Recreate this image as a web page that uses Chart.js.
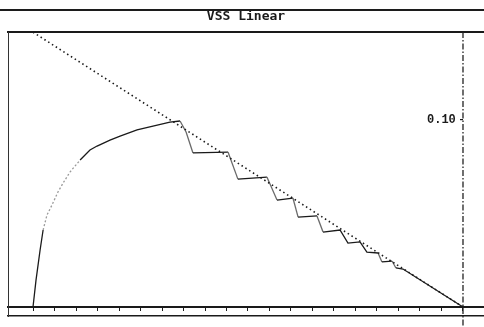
<!DOCTYPE html>
<html>
<head>
<meta charset="utf-8">
<script src="https://cdn.jsdelivr.net/npm/chart.js@4/dist/chart.umd.min.js"></script>
<style>
  html, body { margin: 0; padding: 0; background: #fff; }
  #wrap { position: relative; width: 484px; height: 327px; }
  #rule { position: absolute; left: 0; top: 9px; width: 484px; height: 2px; background: #1c1c1c; }
  canvas { position: absolute; left: 0; top: 0; }
</style>
</head>
<body>
<div id="wrap">
  <canvas id="c" width="484" height="327"></canvas>
  <div id="rule"></div>
</div>
<script>
// Reference line: linear decay from the starting level to zero
const refX = [0, 20];
const refY = [0.147, 0];

// Simulated response: rise, then stepwise tracking of the linear reference
const respX = [0, 0.14, 0.33, 0.47, 0.65, 0.88, 1.16, 1.40, 1.72, 2.19, 2.65, 2.98, 3.58, 4.05, 4.84, 5.58, 6.37, 6.84,
               7.12, 7.44, 9.07, 9.53, 10.88, 11.35, 12.09, 12.33, 13.21, 13.49, 14.28, 14.65, 15.21, 15.53, 16.05,
               16.23, 16.70, 16.88, 17.21, 20];
const respY = [0, 0.0144, 0.0305, 0.0412, 0.0492, 0.0545, 0.0615, 0.0663, 0.0722, 0.0786, 0.0840, 0.0861, 0.0893, 0.0914, 0.0947, 0.0968, 0.0989, 0.0995,
               0.0936, 0.0824, 0.0829, 0.0684, 0.0695, 0.0572, 0.0583, 0.0481, 0.0487, 0.0401, 0.0412, 0.0342, 0.0348, 0.0294, 0.0289,
               0.0241, 0.0246, 0.0209, 0.0203, 0];

// End-of-run marker (vertical), from the top of the frame down past the base line
const endX = [20, 20];
const endY = [0.1471, -0.0108];

// Axis tick positions
const timeTicks = Array.from({length: 21}, (_, i) => i);
const levelTicks = [0.10];
const levelLabels = ['0.10'];

const X_MIN = -1.163, X_MAX = 20.977;
const Y_MIN = -0.0048, Y_MAX = 0.1471;
const INK = '#1a1a1a';

const toPts = (xs, ys) => xs.map((x, i) => ({x, y: ys[i]}));

const plainX = (position, width) => ({
  type: 'linear', position, min: X_MIN, max: X_MAX,
  ticks: { display: false },
  grid: { display: true, drawOnChartArea: false, drawTicks: false },
  border: { display: true, color: INK, width }
});

new Chart(document.getElementById('c'), {
  type: 'line',
  data: {
    datasets: [
      {
        label: 'end',
        data: toPts(endX, endY),
        borderColor: '#222',
        borderWidth: 1.3,
        borderDash: [6, 2, 1.5, 2],
        pointRadius: 0,
        clip: false,
        xAxisID: 'x', yAxisID: 'y'
      },
      {
        label: 'reference',
        data: toPts(refX, refY),
        borderColor: INK,
        borderWidth: 1.6,
        borderDash: [1.5, 3],
        pointRadius: 0,
        tension: 0,
        xAxisID: 'x', yAxisID: 'y'
      },
      {
        label: 'response',
        data: toPts(respX, respY),
        borderColor: INK,
        borderWidth: 1.3,
        pointRadius: 0,
        tension: 0,
        xAxisID: 'x', yAxisID: 'y',
        segment: {
          borderColor: ctx => {
            const i = ctx.p0DataIndex;
            if (i >= 3 && i < 9) return '#9a9a9a';
            const dx = ctx.p1.parsed.x - ctx.p0.parsed.x;
            const dy = ctx.p1.parsed.y - ctx.p0.parsed.y;
            if (i >= 17 && dy < 0 && Math.abs(dy / dx) > 0.02 && ctx.p1DataIndex < respX.length - 1) return '#6a6a6a';
            return undefined;
          },
          borderDash: ctx => (ctx.p0DataIndex >= 3 && ctx.p0DataIndex < 9) ? [2, 2] : undefined
        }
      }
    ]
  },
  options: {
    responsive: false,
    animation: false,
    devicePixelRatio: 1,
    layout: { padding: { left: 8, right: 0, top: 0, bottom: 11 } },
    plugins: {
      legend: { display: false },
      tooltip: { enabled: false },
      title: {
        display: true,
        text: 'VSS Linear',
        fullSize: false,
        color: INK,
        font: { family: 'DejaVu Sans Mono', size: 13, weight: 'bold', lineHeight: 1.2 },
        padding: { top: 9, bottom: 7.4 }
      }
    },
    scales: {
      x: plainX('bottom', 1.5),
      xTop: plainX('top', 2),
      xZero: {
        type: 'linear', position: { y: 0 }, min: X_MIN, max: X_MAX,
        afterBuildTicks: s => { s.ticks = timeTicks.map(v => ({value: v})); },
        ticks: { display: false },
        grid: { display: true, drawOnChartArea: false, drawTicks: true, tickLength: 3, color: INK, lineWidth: 1 },
        border: { display: true, color: INK, width: 2 }
      },
      y: {
        type: 'linear', position: 'left', min: Y_MIN, max: Y_MAX,
        ticks: { display: false },
        grid: { display: true, drawOnChartArea: false, drawTicks: false },
        border: { display: true, color: '#333', width: 1 }
      },
      yR: {
        type: 'linear', position: { x: 20 }, min: Y_MIN, max: Y_MAX,
        afterBuildTicks: s => { s.ticks = levelTicks.map(v => ({value: v})); },
        ticks: {
          display: true,
          color: INK,
          font: { family: 'Liberation Mono', size: 12, weight: 'bold' },
          // trailing space keeps the label clear of the axis line
          callback: (v) => (levelLabels[levelTicks.indexOf(v)] ?? '') + ' '
        },
        grid: { display: true, drawOnChartArea: false, drawTicks: true, tickLength: 3, color: INK, lineWidth: 1.2 },
        border: { display: false }
      }
    }
  }
});
</script>
</body>
</html>
